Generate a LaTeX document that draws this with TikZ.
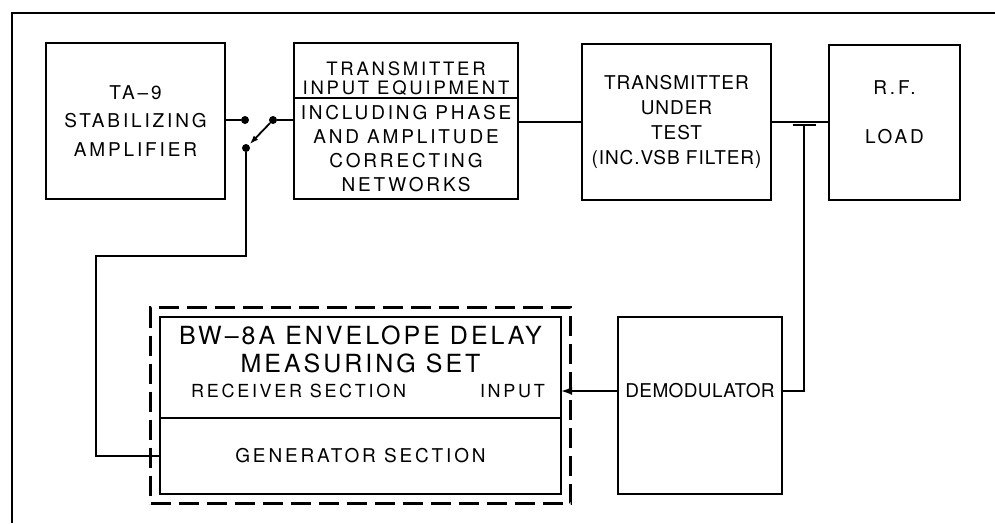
\documentclass[tikz,border=0pt]{standalone}
\usepackage{fontspec}
\setmainfont{TeX Gyre Heros}[LetterSpace=15]
\usetikzlibrary{arrows.meta,positioning,fit}
\tikzset{
  block/.style = {
    rectangle,
    draw,
    line width=2.2pt,
    outer sep=0pt,
    inner sep=0pt,
    align=center
  },
  blocktext/.style = {
    align=center,
    inner sep=0pt
  },
  setframe/.style = {
    rectangle,
    draw,
    line width=2.2pt,
    dash pattern=on 20pt off 8pt,
    inner sep=9.5pt
  },
  swdot/.style = {
    circle,
    fill,
    inner sep=0pt,
    minimum size=8pt
  },
  link/.style = {
    line width=1.8pt
  },
  linkarrow/.style = {
    -{Latex[length=11pt,width=8pt]},
    line width=1.8pt
  },
  frameline/.style = {
    line width=1.5pt
  }
}

\begin{document}
\begin{tikzpicture}[x=1pt,y=-1pt]
    \useasboundingbox (0,0) rectangle (995,523);
    \draw[frameline] (995,13) -| (12,523);
    % upper row
    \node[block, minimum width=179pt, minimum height=156pt,
      font=\fontsize{19}{28.5}\selectfont] (amp) at (135.5,121)
      {TA–9\\STABILIZING\\AMPLIFIER};
    \node[block, minimum width=224pt, minimum height=55pt] (tietop) at (406,70.5) {};
    \node[blocktext, font=\fontsize{18.5}{18.5}\selectfont] (tietxt) at (406,78.5)
      {TRANSMITTER\\INPUT EQUIPMENT};
    \node[block, below=0pt of tietop, minimum width=224pt, minimum height=101pt,
      font=\fontsize{19}{24}\selectfont] (tiebot)
      {INCLUDING PHASE\\AND AMPLITUDE\\CORRECTING\\NETWORKS};
    \node[block, minimum width=189pt, minimum height=156pt,
      font=\fontsize{19}{25}\selectfont\addfontfeature{LetterSpace=5}] (tut) at (676.5,122)
      {TRANSMITTER\\UNDER\\TEST\\(INC.VSB FILTER)};
    \node[block, minimum width=131pt, minimum height=155pt] (load) at (894.5,122.5) {};
    \node[blocktext, font=\fontsize{19}{49}\selectfont] (loadtxt) at (894.5,112)
      {R.F.\\LOAD};
    % switch
    \node[swdot] (swamp) at (245,120) {};
    \node[swdot] (swtie) at (273,120) {};
    \node[swdot] (swgen) at (246,148) {};
    % lower row
    \node[block, minimum width=401pt, minimum height=101pt] (meas) at (360.5,367.5) {};
    \node[block, below=0pt of meas, minimum width=401pt, minimum height=76pt,
      font=\fontsize{19}{24}\selectfont] (gen) {GENERATOR SECTION};
    \node[blocktext, font=\fontsize{25}{28}\selectfont\addfontfeature{LetterSpace=12}] (meastitle)
      at (360.5,349) {BW–8A ENVELOPE DELAY\\MEASURING SET};
    \node[blocktext, anchor=west, font=\fontsize{18}{20}\selectfont] (recv) at (191,391)
      {RECEIVER SECTION};
    \node[blocktext, anchor=east, font=\fontsize{18}{20}\selectfont] (input) at (545,391)
      {INPUT};
    \node[setframe, fit=(meas)(gen)] (bwset) {};
    \node[block, minimum width=164pt, minimum height=177pt] (demod) at (700,405.5) {};
    \node[blocktext, font=\fontsize{19}{20}\selectfont\addfontfeature{LetterSpace=2}] (demodtxt)
      at (700,391) {DEMODULATOR};
    \coordinate (genbend) at (96,256);
    \coordinate (tee) at (804,125);
    % connections
    \draw[link] (swamp -| amp.east) -- (swamp);
    \draw[link] (swtie) -- (swtie -| tiebot.west);
    \draw[-{Latex[length=9pt,width=6pt]}, link, shorten >=1pt] (swtie) -- (swgen);
    \draw[link] (swgen) |- (genbend) |- (gen.west);
    \draw[link] (tut.west -| tiebot.east) -- (tut.west);
    \draw[link] (tut.east) -- (tut.east -| load.west);
    \draw[link] ([xshift=-11.5pt]tee) -- ([xshift=11.5pt]tee);
    \draw[link] (tee) |- (demodtxt -| demod.east);
    \draw[linkarrow] (demodtxt -| demod.west) -- (input -| meas.east);
\end{tikzpicture}
\end{document}
